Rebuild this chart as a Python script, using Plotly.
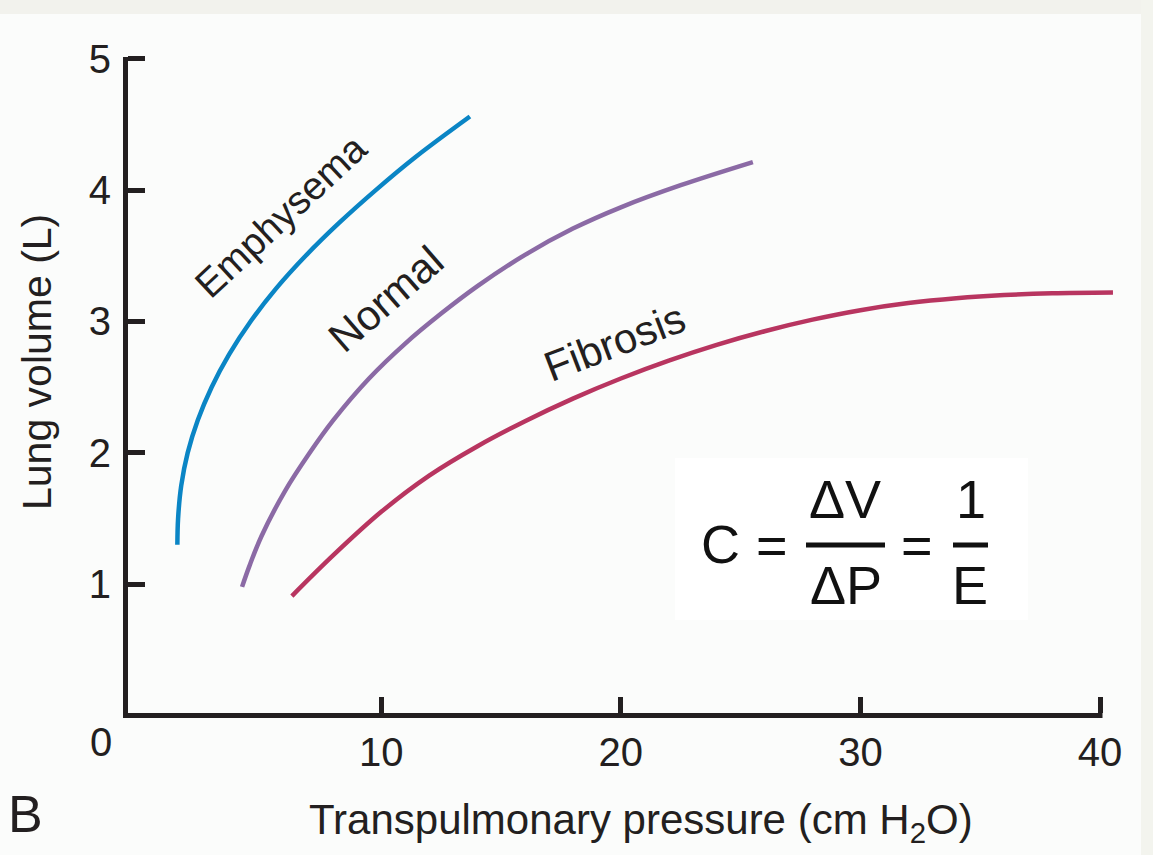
import plotly.graph_objects as go

# Pressure-volume curves of the lung (transpulmonary pressure, cm H2O -> volume, L)
emphysema_p = [1.49, 1.52, 1.651, 1.92, 2.345, 2.92, 3.651, 4.545, 5.607, 6.845, 8.239, 9.77, 11.42, 13.70]
emphysema_v = [1.30, 1.50, 1.75, 2.00, 2.25, 2.50, 2.75, 3.00, 3.25, 3.50, 3.75, 4.00, 4.25, 4.56]

normal_p = [4.19, 4.50, 5.00, 6.00, 7.00, 8.00, 9.50, 11.00, 12.50, 14.00, 16.00, 18.00, 20.00, 22.50, 25.51]
normal_v = [0.98, 1.14, 1.365, 1.715, 1.997, 2.249, 2.568, 2.832, 3.060, 3.267, 3.507, 3.707, 3.869, 4.037, 4.213]

fibrosis_p = [6.27, 8.0, 10.0, 12.0, 14.0, 16.0, 18.0, 20.0, 22.0, 24.0, 26.0, 28.0, 30.0, 32.0, 34.0,
              36.0, 38.0, 40.54]
fibrosis_v = [0.91, 1.221, 1.551, 1.827, 2.049, 2.241, 2.413, 2.566, 2.702, 2.822, 2.926, 3.014, 3.086,
              3.140, 3.177, 3.201, 3.214, 3.220]

x_ticks = [10, 20, 30, 40]
y_ticks = [1, 2, 3, 4, 5]

W, H = 1153, 855
ML, MR, MT, MB = 128, 35, 57, 142
PW, PH = W - ML - MR, H - MT - MB

INK = "#231f20"
FORMULA_INK = "#111111"
FONT = "Liberation Sans, Arial, Helvetica, sans-serif"


def px(x):
    return (x - ML) / PW


def py(y):
    return (H - MB - y) / PH


fig = go.Figure()

series = [
    ("Emphysema", emphysema_p, emphysema_v, "#0a85c5"),
    ("Normal", normal_p, normal_v, "#8b6aa5"),
    ("Fibrosis", fibrosis_p, fibrosis_v, "#b83560"),
]
for name, p, v, color in series:
    fig.add_trace(go.Scatter(
        x=p, y=v, mode="lines", name=name,
        line=dict(color=color, width=4.5, shape="spline", smoothing=1.0),
        hoverinfo="skip",
    ))

shapes = [
    # soft page edges
    dict(type="rect", xref="paper", yref="paper", x0=px(0), x1=px(W), y0=py(14), y1=py(0),
         fillcolor="#f2f2ed", line=dict(width=0), layer="below"),
    dict(type="rect", xref="paper", yref="paper", x0=px(1141), x1=px(W), y0=py(H), y1=py(0),
         fillcolor="#f3f4ee", line=dict(width=0), layer="below"),
    # formula panel
    dict(type="rect", xref="paper", yref="paper", x0=px(675), x1=px(1028), y0=py(620), y1=py(458),
         fillcolor="#ffffff", line=dict(width=0), layer="below"),
    # x axis line (stops at 40 while the curves may run past it)
    dict(type="line", xref="paper", yref="paper", x0=px(123), x1=px(1102.5), y0=py(715.5), y1=py(715.5),
         line=dict(color=INK, width=5)),
    # fraction bars
    dict(type="line", xref="paper", yref="paper", x0=px(806), x1=px(885), y0=py(545), y1=py(545),
         line=dict(color=FORMULA_INK, width=5)),
    dict(type="line", xref="paper", yref="paper", x0=px(953), x1=px(988), y0=py(545), y1=py(545),
         line=dict(color=FORMULA_INK, width=5)),
]


def note(text, x, y, size, angle=0, color=INK):
    return dict(text=text, xref="paper", yref="paper", x=px(x), y=py(y),
                xanchor="center", yanchor="middle", showarrow=False, textangle=angle,
                font=dict(family=FONT, size=size, color=color))


annotations = [
    note("0", 101, 742, 40),
    note("B", 25, 814, 52),
    note("Transpulmonary pressure (cm H<sub>2</sub>O)", 641, 822, 42),
    note("Lung volume (L)", 37, 362, 41, angle=-90),
    note("Emphysema", 280, 216, 39, angle=-43),
    note("Normal", 385, 299, 42, angle=-41),
    note("Fibrosis", 614, 342, 42, angle=-21),
    note("C", 720, 544, 54, color=FORMULA_INK),
    note("=", 772, 545, 54, color=FORMULA_INK),
    note("\u0394V", 845, 499, 54, color=FORMULA_INK),
    note("\u0394P", 846, 585, 54, color=FORMULA_INK),
    note("=", 917, 545, 54, color=FORMULA_INK),
    note("1", 971, 499, 54, color=FORMULA_INK),
    note("E", 970, 585, 54, color=FORMULA_INK),
]

fig.update_layout(
    width=W, height=H,
    margin=dict(l=ML, r=MR, t=MT, b=MB, pad=0),
    paper_bgcolor="#fbfcfb", plot_bgcolor="#fbfcfb",
    showlegend=False,
    font=dict(family=FONT, color=INK),
    shapes=shapes,
    annotations=annotations,
    xaxis=dict(
        range=[-0.57, 40.75], tickvals=x_ticks, ticktext=[str(t) for t in x_ticks],
        showgrid=False, zeroline=False,
        showline=True, linecolor="rgba(0,0,0,0)", linewidth=5,
        ticks="inside", ticklen=16, tickwidth=5, tickcolor=INK,
        tickfont=dict(size=40, color=INK, family=FONT),
        fixedrange=True,
    ),
    yaxis=dict(
        range=[0.02, 5.013], tickvals=y_ticks, ticktext=[str(t) for t in y_ticks],
        showgrid=False, zeroline=False,
        showline=True, linecolor=INK, linewidth=5,
        ticks="inside", ticklen=17, tickwidth=5, tickcolor=INK,
        tickfont=dict(size=40, color=INK, family=FONT),
        ticklabelstandoff=4,
        fixedrange=True,
    ),
)

fig.write_html("out.html")
